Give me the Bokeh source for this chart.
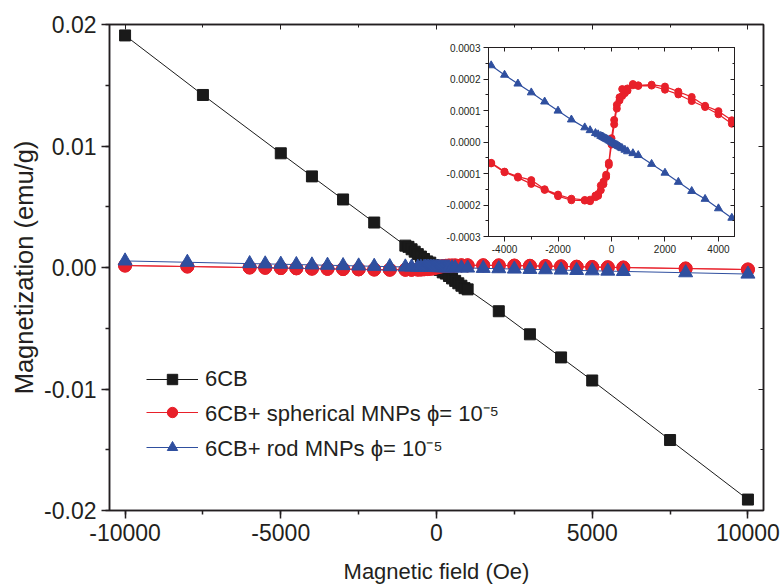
from bokeh.plotting import figure
from bokeh.models import (LinearAxis, Range1d, Legend, LegendItem, ColumnDataSource,
                          PrintfTickFormatter, FixedTicker,
                          CustomJSTickFormatter, Column)
from bokeh.embed import file_html
from bokeh.resources import INLINE

# ---------------- data ----------------
cb_field = [-10000, -7500, -5000, -4000, -3000, -2000, -1000, -900, -800, -700, -600,
            -500, -400, -300, -200, -100, 0, 100, 200, 300, 400, 500, 600, 700, 800,
            900, 1000, 2000, 3000, 4000, 5000, 7500, 10000]
cb_mag = [0.0191, 0.0142, 0.0094, 0.0075, 0.0056, 0.0037, 0.0018, 0.0017, 0.0015,
          0.0013, 0.0011, 0.0009, 0.0007, 0.0005, 0.0004, 0.0002, 0.0, -0.0002,
          -0.0004, -0.0005, -0.0007, -0.0009, -0.0011, -0.0013, -0.0015, -0.0017,
          -0.0018, -0.0036, -0.0055, -0.0074, -0.0093, -0.0142, -0.0191]

sph_field_up = [-10000, -8000, -6000, -5500, -5000, -4500, -4000, -3500, -3000, -2500,
                -2000, -1500, -1000, -800, -600, -500, -400, -300, -200, -100, 0, 100,
                200, 300, 400, 500, 600, 800, 1000, 1500, 2000, 2500, 3000, 3500, 4000,
                4500, 5000, 5500, 6000, 8000, 10000]
sph_mag_up = [0.00016, 0.00008, -0.000004, -0.000025, -0.000046, -0.000068, -0.000096,
              -0.000113, -0.000133, -0.000152, -0.000172, -0.000185, -0.000186,
              -0.000188, -0.000175, -0.000171, -0.000153, -0.000134, -0.000111,
              -0.000073, -0.000008, 0.000056, 0.000106, 0.000132, 0.000146, 0.000155,
              0.000163, 0.000180, 0.000178, 0.000179, 0.000166, 0.000151, 0.000130,
              0.000111, 0.000088, 0.000058, 0.000034, 0.000011, -0.000009, -0.00009,
              -0.00017]
sph_field_down = [10000, 8000, 6000, 5500, 5000, 4500, 4000, 3500, 3000, 2500, 2000,
                  1500, 1000, 800, 600, 500, 400, 300, 200, 100, 0, -100, -200, -300,
                  -400, -500, -600, -800, -1000, -1500, -2000, -2500, -3000, -3500,
                  -4000, -4500, -5000, -5500, -6000, -8000, -10000]
sph_mag_down = [-0.00016, -0.00008, 0.000002, 0.000023, 0.000046, 0.000069, 0.000098,
                0.000115, 0.000143, 0.000160, 0.000176, 0.000182, 0.000180, 0.000184,
                0.000170, 0.000166, 0.000168, 0.000142, 0.000118, 0.000070, 0.000012,
                -0.000066, -0.000104, -0.000126, -0.000138, -0.000165, -0.000170,
                -0.000183, -0.000184, -0.000180, -0.000167, -0.000150, -0.000121,
                -0.000110, -0.000094, -0.000066, -0.000044, -0.000020, 0.000001,
                0.00008, 0.00016]

rod_field = [-10000, -8000, -6000, -5500, -5000, -4500, -4000, -3500, -3000, -2500,
             -2000, -1500, -1000, -800, -600, -500, -400, -350, -300, -250, -200, -150,
             -100, -50, 0, 50, 100, 150, 200, 250, 300, 350, 400, 500, 600, 800, 1000,
             1500, 2000, 2500, 3000, 3500, 4000, 4500, 5000, 5500, 6000, 8000, 10000]
rod_mag = [0.00054, 0.00043, 0.00032, 0.000297, 0.00027, 0.000243, 0.000213, 0.000185,
           0.000157, 0.000128, 0.000099, 0.000071, 0.000046, 0.000037, 0.000028,
           0.000024, 0.000019, 0.000017, 0.000015, 0.000012, 0.000010, 0.000008,
           0.000005, 0.000003, 0.0, -0.000003, -0.000005, -0.000008, -0.000010,
           -0.000013, -0.000015, -0.000018, -0.000020, -0.000025, -0.000030,
           -0.000036, -0.000042, -0.000070, -0.000098, -0.000127, -0.000156,
           -0.000181, -0.000211, -0.000241, -0.000268, -0.000296, -0.000324,
           -0.00043, -0.00054]

main_x_ticks = [-10000, -5000, 0, 5000, 10000]
main_y_ticks = [-0.02, -0.01, 0.0, 0.01, 0.02]
inset_x_ticks = [-4000, -2000, 0, 2000, 4000]
inset_y_ticks = [-0.0003, -0.0002, -0.0001, 0.0, 0.0001, 0.0002, 0.0003]

labels = ["6CB",
          "6CB+ spherical MNPs \u03d5= 10\u207b\u2075",
          "6CB+ rod MNPs \u03d5= 10\u207b\u2075"]
x_title = "Magnetic field (Oe)"
y_title = "Magnetization (emu/g)"

BLACK = "#1a1a1a"
RED = "#e8202a"
BLUE = "#2f4f9f"
FONT = "Liberation Sans"
AX = "#231f20"


def minors(ticks, n):
    out = []
    for a, b in zip(ticks[:-1], ticks[1:]):
        for k in range(n):
            out.append(a + (b - a) * k / n)
    out.append(ticks[-1])
    return out


src_cb = ColumnDataSource(dict(x=cb_field, y=cb_mag))
src_sph = ColumnDataSource(dict(x=sph_field_up + sph_field_down,
                                y=sph_mag_up + sph_mag_down))
src_rod = ColumnDataSource(dict(x=rod_field, y=rod_mag))

blank = CustomJSTickFormatter(code="return ''")

W, H = 780, 586

# ---------------- main figure ----------------
p = figure(width=W, height=H, x_range=Range1d(-10500, 10500),
           y_range=Range1d(-0.02, 0.02), output_backend="svg", toolbar_location=None,
           min_border_left=109, min_border_right=17, min_border_top=24,
           min_border_bottom=73, x_axis_label=x_title, y_axis_label=y_title)
p.xgrid.visible = False
p.ygrid.visible = False
p.outline_line_color = AX
p.outline_line_width = 1.5
p.background_fill_color = "white"
p.border_fill_color = "white"

mxt = FixedTicker(ticks=main_x_ticks, minor_ticks=minors(main_x_ticks, 2))
myt = FixedTicker(ticks=main_y_ticks, minor_ticks=minors(main_y_ticks, 2))
p.xaxis.ticker = mxt
p.yaxis.ticker = myt
p.xaxis.formatter = PrintfTickFormatter(format="%d")
p.yaxis.formatter = PrintfTickFormatter(format="%.2f")
for ax in (p.xaxis[0], p.yaxis[0]):
    ax.axis_line_color = AX
    ax.axis_line_width = 1.5
    ax.major_tick_line_color = AX
    ax.minor_tick_line_color = AX
    ax.major_tick_line_width = 1.5
    ax.minor_tick_line_width = 1.5
    ax.major_tick_in = 0
    ax.major_tick_out = 8
    ax.minor_tick_in = 0
    ax.minor_tick_out = 4
    ax.major_label_text_font = FONT
    ax.major_label_text_font_size = "23px"
    ax.major_label_text_color = AX
    ax.major_label_standoff = 5
    ax.axis_label_text_font = FONT
    ax.axis_label_text_font_style = "normal"
    ax.axis_label_text_color = AX
p.xaxis.axis_label_text_font_size = "22px"
p.xaxis.axis_label_standoff = 15
p.yaxis.axis_label_text_font_size = "25.5px"
p.yaxis.axis_label_standoff = 3

for loc, tk in (("above", mxt), ("right", myt)):
    a = LinearAxis(ticker=tk, formatter=blank)
    a.axis_line_color = AX
    a.axis_line_width = 1.5
    a.major_tick_in = 5
    a.major_tick_out = 0
    a.minor_tick_in = 3
    a.minor_tick_out = 0
    a.major_tick_line_color = AX
    a.minor_tick_line_color = AX
    a.major_label_standoff = 0
    p.add_layout(a, loc)

l_cb = p.line("x", "y", source=src_cb, line_color=BLACK, line_width=1)
s_cb = p.scatter("x", "y", source=src_cb, marker="square", size=11,
                 fill_color=BLACK, line_color=BLACK)
l_sph = p.line("x", "y", source=src_sph, line_color=RED, line_width=1)
s_sph = p.scatter("x", "y", source=src_sph, marker="circle", size=13,
                  fill_color=RED, line_color=RED)
l_rod = p.line("x", "y", source=src_rod, line_color=BLUE, line_width=1)
s_rod = p.scatter("x", "y", source=src_rod, marker="triangle", size=14,
                  fill_color=BLUE, line_color=BLUE)

legend = Legend(items=[LegendItem(label=labels[0], renderers=[l_cb, s_cb]),
                       LegendItem(label=labels[1], renderers=[l_sph, s_sph]),
                       LegendItem(label=labels[2], renderers=[l_rod, s_rod])],
                location=(37, 48), glyph_width=52, glyph_height=26, label_height=26,
                label_standoff=7, spacing=5, padding=0, margin=0,
                border_line_color=None, background_fill_alpha=0,
                label_text_font=FONT, label_text_font_size="22px",
                label_text_color=AX)
p.add_layout(legend)

# ---------------- inset (full-size transparent overlay) ----------------
q = figure(width=W, height=H, x_range=Range1d(-4600, 4600),
           y_range=Range1d(-0.0003, 0.0003), output_backend="svg",
           toolbar_location=None, min_border_left=488, min_border_right=46,
           min_border_top=47, min_border_bottom=350)
q.xgrid.visible = False
q.ygrid.visible = False
q.background_fill_color = "white"
q.border_fill_color = None
q.outline_line_color = AX
q.outline_line_width = 1
ixt = FixedTicker(ticks=inset_x_ticks, minor_ticks=minors(inset_x_ticks, 2))
iyt = FixedTicker(ticks=inset_y_ticks, minor_ticks=minors(inset_y_ticks, 2))
q.xaxis.ticker = ixt
q.yaxis.ticker = iyt
q.xaxis.formatter = PrintfTickFormatter(format="%d")
q.yaxis.formatter = PrintfTickFormatter(format="%.4f")
for ax in (q.xaxis[0], q.yaxis[0]):
    ax.axis_line_color = AX
    ax.major_tick_line_color = AX
    ax.minor_tick_line_color = AX
    ax.major_tick_in = 0
    ax.major_tick_out = 5
    ax.minor_tick_in = 0
    ax.minor_tick_out = 3
    ax.major_label_text_font = FONT
    ax.major_label_text_font_size = "10px"
    ax.major_label_text_color = AX
    ax.major_label_standoff = 3
for loc, tk in (("above", ixt), ("right", iyt)):
    a = LinearAxis(ticker=tk, formatter=blank)
    a.axis_line_color = AX
    a.major_tick_in = 4
    a.major_tick_out = 0
    a.minor_tick_in = 2
    a.minor_tick_out = 0
    a.major_tick_line_color = AX
    a.minor_tick_line_color = AX
    a.major_label_standoff = 0
    q.add_layout(a, loc)

q.line("x", "y", source=src_sph, line_color=RED, line_width=1.2)
q.scatter("x", "y", source=src_sph, marker="circle", size=7, fill_color=RED,
          line_color=RED)
q.line("x", "y", source=src_rod, line_color=BLUE, line_width=1.2)
q.scatter("x", "y", source=src_rod, marker="triangle", size=8, fill_color=BLUE,
          line_color=BLUE)

# nested column so the two plots' frames are not aligned with each other
inner = Column(q, margin=(-H, 0, 0, 0))
layout = Column(p, inner)
open("out.html", "w").write(file_html(layout, INLINE))
